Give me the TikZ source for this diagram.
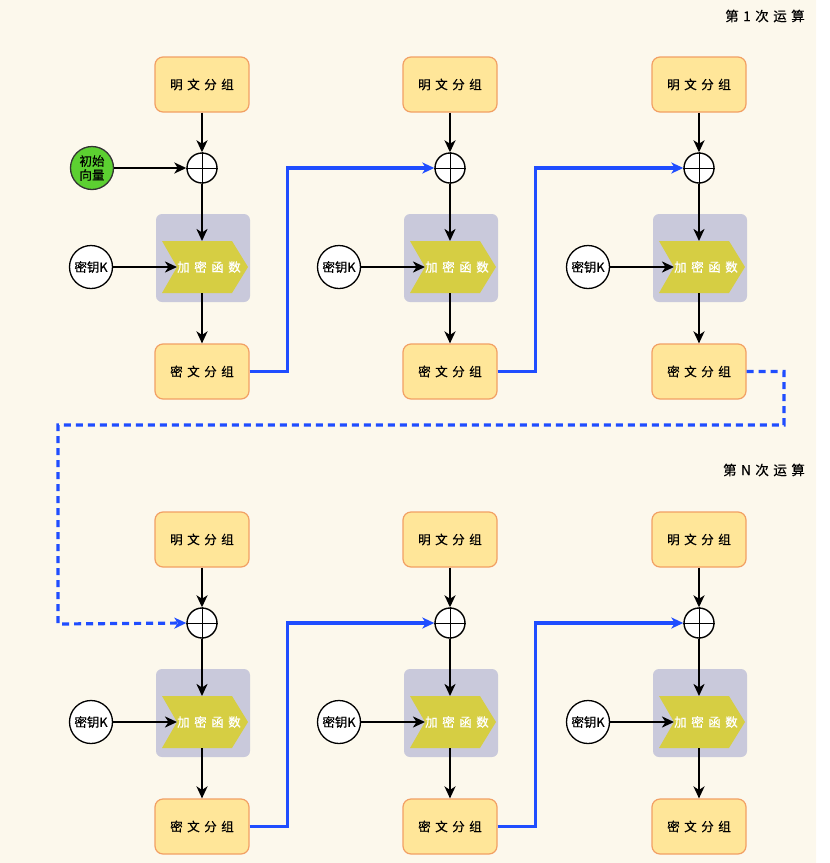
\documentclass[tikz,border=0pt]{standalone}
\usepackage{fontspec}
\setmainfont{Noto Sans CJK SC}[UprightFeatures={FakeBold=0.45}]
\usetikzlibrary{arrows.meta,calc}
\definecolor{bgc}{HTML}{FCF8EC}
\definecolor{boxfill}{HTML}{FFE699}
\definecolor{boxline}{HTML}{F2A064}
\definecolor{ivgreen}{HTML}{5CD031}
\definecolor{grayc}{HTML}{C9C9DB}
\definecolor{chev}{HTML}{D6CE43}
\definecolor{linkblue}{HTML}{1F4DFF}
\newcommand\sg{\hspace{4.5pt}}
\tikzset{
  blk/.style={draw=boxline, fill=boxfill, rounded corners=8pt, minimum width=94pt, minimum height=55pt, inner sep=0pt, line width=1.2pt, font=\fontsize{12.5}{14}\selectfont},
  xorc/.style={circle, draw=black, fill=white, minimum size=30pt, inner sep=0pt, line width=1.4pt},
  keyc/.style={circle, draw=black, fill=white, minimum size=43pt, inner sep=0pt, line width=1.3pt, font=\fontsize{12.5}{14}\selectfont},
  ivc/.style={circle, draw=black!80, fill=ivgreen, minimum size=43pt, inner sep=0pt, line width=1.3pt, font=\fontsize{12.5}{15}\selectfont, align=center},
  grayb/.style={fill=grayc, rounded corners=6pt, minimum width=94pt, minimum height=88pt, inner sep=0pt},
  fntxt/.style={text=white, font=\fontsize{12.5}{14}\selectfont, inner sep=0pt},
  arr/.style={line width=2.6pt, -{Stealth[length=12pt,width=11pt,inset=3.5pt]}},
  barr/.style={line width=3.2pt, draw=linkblue, -{Stealth[length=12pt,width=11pt,inset=3.5pt]}},
  dbarr/.style={barr, dash pattern=on 7pt off 5pt},
  titletxt/.style={font=\fontsize{13.5}{15}\selectfont, inner sep=0pt},
}
\begin{document}
\begin{tikzpicture}[x=1pt,y=-1pt]
\useasboundingbox (0,0) rectangle (830,863);
\fill[bgc, rounded corners=9pt] (-20,-20) rectangle (816,883);
\fill[bgc] (-20,-20) rectangle (700,883);
\fill[bgc] (-20,300) rectangle (816,883);

\node[titletxt] (t1) at (765,16) {第\sg 1\sg 次\sg 运\sg 算};
\node[titletxt] (t2) at (764,470) {第\sg N\sg 次\sg 运\sg 算};

\foreach \r/\rn in {0/a,455/b} {
  \foreach \cx/\cn in {202/1,450/2,699/3} {
    \node[blk] (p\rn\cn) at (\cx,84.5+\r) {明\sg 文\sg 分\sg 组};
    \node[xorc] (x\rn\cn) at (\cx,168+\r) {};
    \draw[line width=0.9pt] (x\rn\cn.north) -- (x\rn\cn.south) (x\rn\cn.west) -- (x\rn\cn.east);
    \node[grayb] (g\rn\cn) at (\cx+1,258+\r) {};
    \fill[chev] (\cx-40,241+\r) -- (\cx+30,241+\r) -- (\cx+46,267+\r) -- (\cx+30,293+\r) -- (\cx-40,293+\r) -- (\cx-25,267+\r) -- cycle;
    \coordinate (n\rn\cn) at (\cx-25,267+\r);
    \coordinate (tp\rn\cn) at (\cx,241+\r);
    \coordinate (bt\rn\cn) at (\cx,293+\r);
    \node[fntxt] (f\rn\cn) at (\cx+7,267+\r) {加\sg 密\sg 函\sg 数};
    \node[keyc] (k\rn\cn) at (\cx-111,267+\r) {密钥K};
    \node[blk] (c\rn\cn) at (\cx,371.5+\r) {密\sg 文\sg 分\sg 组};
    \draw[arr] (p\rn\cn.south) -- (x\rn\cn.north);
    \draw[arr] (x\rn\cn.south) -- (tp\rn\cn);
    \draw[arr] (k\rn\cn.east) -- (n\rn\cn);
    \draw[arr] (bt\rn\cn) -- (c\rn\cn.north);
  }
  \draw[barr] (c\rn1.east) -- ++(38,0) |- (x\rn2.west);
  \draw[barr] (c\rn2.east) -- ++(38,0) |- (x\rn3.west);
}

\node[ivc] (iv) at (92,168) {初始\\[-1pt]向量};
\draw[arr] (iv.east) -- (xa1.west);

\coordinate (d1) at (784,371.5);
\coordinate (d2) at (784,425);
\coordinate (d3) at (58,425);
\coordinate (d4) at (58,624);
\draw[dbarr] (ca3.east) -- (d1) -- (d2) -- (d3) -- (d4) -- (xb1.west);
\end{tikzpicture}
\end{document}
